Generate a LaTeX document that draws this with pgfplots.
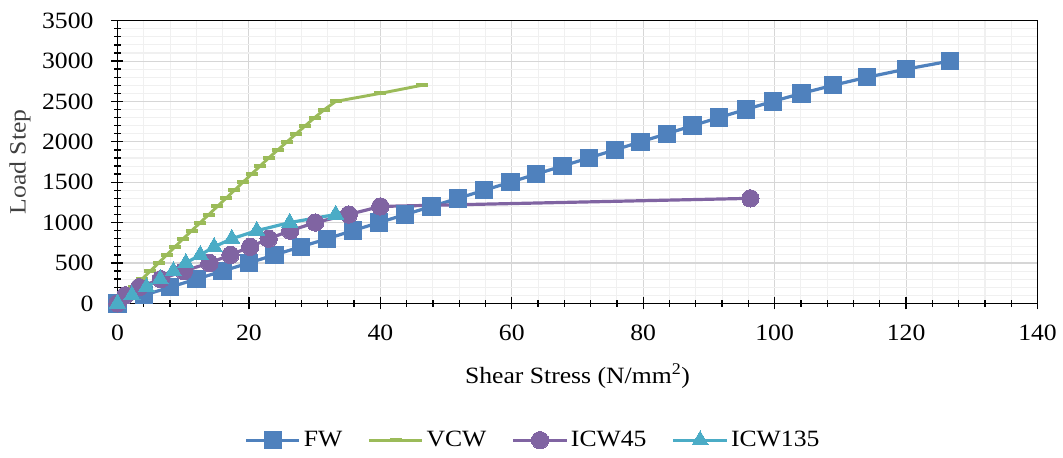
\documentclass[border=0pt]{standalone}
\usepackage{fontspec}
\setmainfont{Liberation Serif}[FakeStretch=1.1]
\usepackage{pgfplots}
\pgfplotsset{compat=1.18}
\definecolor{fwc}{HTML}{4F81BD}
\definecolor{vcwc}{HTML}{9BBB59}
\definecolor{icwa}{HTML}{8064A2}
\definecolor{icwb}{HTML}{4BACC6}
\begin{document}
\fontsize{17.5pt}{21pt}\selectfont
\begin{tikzpicture}
\begin{axis}[name=ax, scale only axis, width=690pt, height=212pt,
  xmin=0, xmax=140, ymin=0, ymax=3500,
  xtick distance=20, ytick distance=500,
  minor x tick num=4, minor y tick num=4,
  grid=both,
  major grid style={draw=black!16, line width=0.8pt},
  minor grid style={draw=black!6, line width=0.8pt},
  axis line style={black, line width=1.1pt},
  tick style={black, line width=1pt},
  tick align=center, major tick length=9pt, minor tick length=5pt,
  xtick pos=bottom, ytick pos=left,
  /pgf/number format/assume math mode=true,
  /pgf/number format/1000 sep={},
  tick label style={font=\fontsize{17.5pt}{21pt}\selectfont},
  xticklabel style={yshift=-6pt},
  yticklabel style={xshift=-7.5pt},
  label style={font=\fontsize{17.5pt}{21pt}\selectfont},
  xlabel={Shear Stress (N/mm\textsuperscript{2})},
  ylabel={Load Step},
  xlabel style={at={(axis description cs:0.5,-0.257)}, anchor=center},
  ylabel style={at={(axis description cs:-0.106,0.5)}, anchor=center, text=black!75},
  legend columns=4,
  legend style={at={(axis description cs:0.452,-0.484)}, anchor=center, draw=none, fill=none,
    font=\fontsize{17.5pt}{21pt}\selectfont,
    /tikz/every even column/.append style={column sep=17pt}},
  legend image code/.code={\draw[mark repeat=2,mark phase=2,#1] plot coordinates {(0pt,0pt)(20pt,0pt)(40pt,0pt)};},
]
\addplot[color=fwc, line width=2.4pt, mark=square*, mark size=6.5pt, mark options={solid, line width=0pt, fill=fwc}] coordinates {
(0,0)(4,100)(8,200)(12,300)(16,400)(20,500)(23.9,600)(27.9,700)(31.9,800)(35.8,900)(39.8,1000)(43.8,1100)(47.8,1200)(51.8,1300)(55.8,1400)(59.8,1500)(63.7,1600)(67.7,1700)(71.7,1800)(75.7,1900)(79.6,2000)(83.6,2100)(87.5,2200)(91.5,2300)(95.6,2400)(99.7,2500)(104.1,2600)(108.9,2700)(114.1,2800)(120.0,2900)(126.7,3000)};
\addlegendentry{FW}
\addplot[color=vcwc, line width=2.2pt, mark=-, mark size=4.5pt, mark options={solid, line width=3pt}] coordinates {
(0,0)(1.25,100)(2.5,200)(3.75,300)(5.0,400)(6.25,500)(7.5,600)(8.75,700)(10.0,800)(11.3,900)(12.6,1000)(13.9,1100)(15.2,1200)(16.5,1300)(17.8,1400)(19.1,1500)(20.4,1600)(21.7,1700)(23.0,1800)(24.4,1900)(25.8,2000)(27.2,2100)(28.6,2200)(30.0,2300)(31.5,2400)(33.2,2500)(40.0,2600)(46.3,2700)};
\addlegendentry{VCW}
\addplot[color=icwa, line width=2.4pt, mark=*, mark size=6.5pt, mark options={solid, line width=0pt, fill=icwa}] coordinates {
(0,0)(1.2,100)(3.3,200)(6.6,300)(10.1,400)(14.0,500)(17.2,600)(20.2,700)(23.0,800)(26.3,900)(30.1,1000)(35.2,1100)(40.0,1200)(96.3,1300)};
\addlegendentry{ICW45}
\addplot[color=icwb, line width=2.4pt, mark=triangle*, mark size=7pt, mark options={solid, line width=0pt, fill=icwb}] coordinates {
(0,0)(2.2,100)(4.4,200)(6.5,300)(8.5,400)(10.4,500)(12.6,600)(14.7,700)(17.4,800)(21.2,900)(26.2,1000)(33.2,1100)};
\addlegendentry{ICW135}
\end{axis}
\pgfresetboundingbox
\useasboundingbox ([xshift=-88.1pt, yshift=-115.3pt]ax.south west) rectangle ([xshift=19.1pt, yshift=15.5pt]ax.north east);
\end{tikzpicture}
\end{document}
